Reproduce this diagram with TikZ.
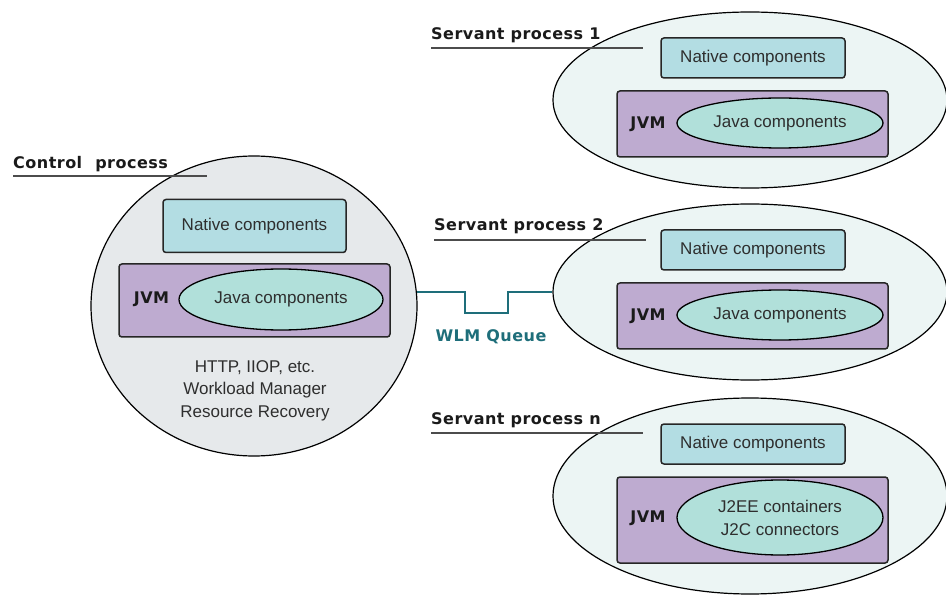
\documentclass[tikz,border=0pt]{standalone}
\usepackage{fontspec}
\setmainfont{Liberation Sans}
\newfontfamily\lblfont[LetterSpace=3]{DejaVu Sans Bold}
\usetikzlibrary{shapes.geometric}
\definecolor{ctrlfill}{HTML}{E6E9EB}
\definecolor{servfill}{HTML}{ECF5F4}
\definecolor{natfill}{HTML}{B3DDE3}
\definecolor{jvmfill}{HTML}{BEABD0}
\definecolor{javafill}{HTML}{B1E0DA}
\definecolor{wlmteal}{HTML}{1E6E7A}
\definecolor{txt}{HTML}{2E2E2E}
\definecolor{lbltxt}{HTML}{1A1A1A}
\tikzset{
  proc/.style={ellipse, draw=black, line width=1.2pt, inner sep=0pt},
  ctrlproc/.style={proc, fill=ctrlfill, minimum width=326pt, minimum height=300pt},
  servproc/.style={proc, fill=servfill, minimum width=394pt, minimum height=176pt},
  natbox/.style={rectangle, rounded corners=3pt, draw=black!85, line width=1.5pt, fill=natfill,
    minimum width=184pt, minimum height=40pt, inner sep=0pt, font=\fontsize{17}{20}\selectfont, text=txt},
  jvmbox/.style={rectangle, rounded corners=3pt, draw=black!85, line width=1.5pt, fill=jvmfill,
    minimum width=271pt, minimum height=66pt, inner sep=0pt},
  javaell/.style={ellipse, draw=black, line width=1.3pt, fill=javafill, minimum width=206pt,
    minimum height=50pt, inner sep=0pt, align=center, font=\fontsize{17}{23}\selectfont, text=txt},
  jvmlbl/.style={font=\lblfont\fontsize{16}{19}\selectfont, text=lbltxt},
  plbl/.style={font=\lblfont\fontsize{16}{19}\selectfont, anchor=base west, text=lbltxt, inner sep=0pt},
  uline/.style={draw=black!70, line width=1.5pt},
  wlm/.style={draw=wlmteal, line width=1.8pt},
  plain/.style={align=center, font=\fontsize{17}{22.5}\selectfont, text=txt}
}
\begin{document}
\begin{tikzpicture}[x=1pt, y=-1pt]
\useasboundingbox (0,0) rectangle (946,596);

% Control process
\node[ctrlproc] (ctrl) at (254,306) {};
\node[natbox, minimum width=183pt, minimum height=53pt] (cnat) at (254.5,226) {Native components};
\node[jvmbox, minimum height=73pt] (cjvm) at (254.5,300.5) {};
\node[javaell, minimum width=204pt, minimum height=61pt] (cjava) at (281,299.5) {Java components};
\node[jvmlbl] (cjvml) at (151.5,299) {JVM};
\node[plain] (cinfo) at (255,390.5) {HTTP, IIOP, etc.\\Workload Manager\\Resource Recovery};
\node[plbl] (clbl) at (13,169) {Control\hspace{7pt} process};
\draw[uline] (13,176) -- (207,176);

% Servant process 1
\node[servproc] (s1) at (750,100) {};
\node[natbox] (s1nat) at (753,58) {Native components};
\node[jvmbox] (s1jvm) at (752.5,124) {};
\node[javaell] (s1java) at (780,123) {Java components};
\node[jvmlbl] (s1jvml) at (648,124) {JVM};
\node[plbl] (s1lbl) at (431,40) {Servant process 1};
\draw[uline] (431,48) -- (643,48);

% Servant process 2
\node[servproc] (s2) at (750,292) {};
\node[natbox] (s2nat) at (753,250) {Native components};
\node[jvmbox] (s2jvm) at (752.5,316) {};
\node[javaell] (s2java) at (780,315) {Java components};
\node[jvmlbl] (s2jvml) at (648,316) {JVM};
\node[plbl] (s2lbl) at (434,231) {Servant process 2};
\draw[uline] (434,240) -- (646,240);

% Servant process n
\node[servproc, minimum height=196pt] (sn) at (750,496) {};
\node[natbox] (snnat) at (753,444) {Native components};
\node[jvmbox, minimum height=86pt] (snjvm) at (752.5,520) {};
\node[javaell, minimum height=75pt] (snjava) at (780,517.5) {J2EE containers\\J2C connectors};
\node[jvmlbl] (snjvml) at (648,518) {JVM};
\node[plbl] (snlbl) at (431,424) {Servant process n};
\draw[uline] (431,433) -- (643,433);

% WLM queue
\coordinate (q1) at (465,313);
\coordinate (q2) at (508,313);
\draw[wlm] (ctrl.5) -| (q1) -- (q2) |- (s2.west);
\node[font=\lblfont\fontsize{16}{19}\selectfont, text=wlmteal] (wlmq) at (491,337) {WLM Queue};
\end{tikzpicture}
\end{document}
